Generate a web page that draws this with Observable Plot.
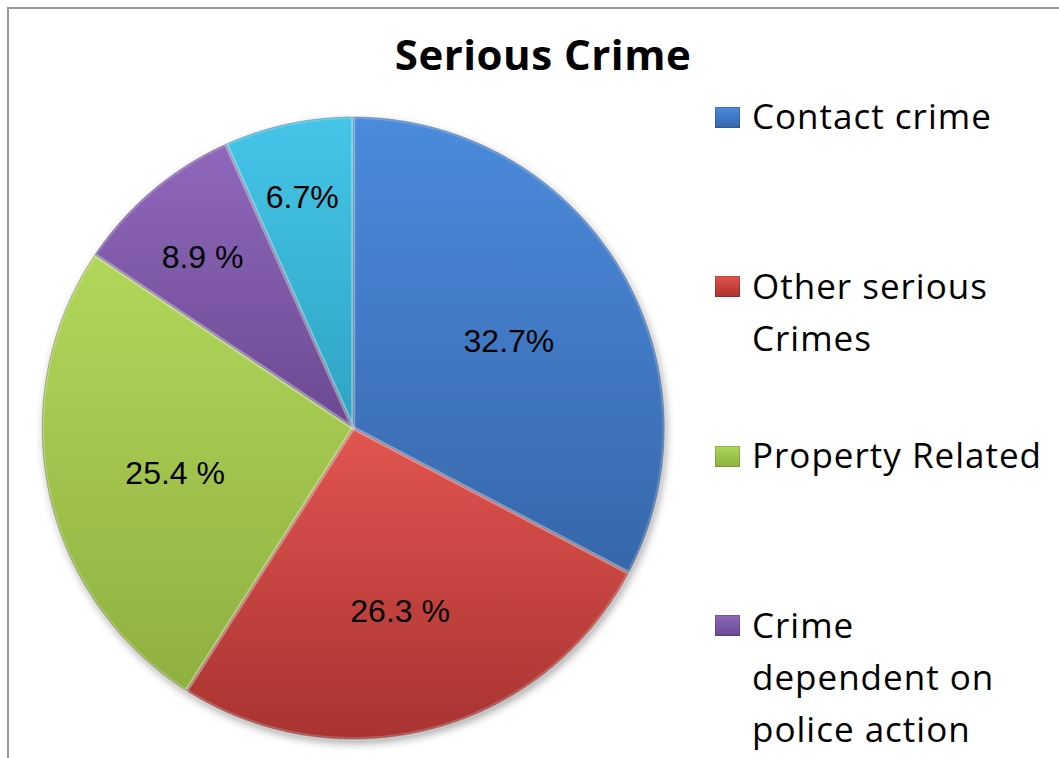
<!DOCTYPE html>
<html><head><meta charset="utf-8">
<script src="https://cdn.jsdelivr.net/npm/d3@7"></script>
<script src="https://cdn.jsdelivr.net/npm/@observablehq/plot@0.6"></script>
<style>
html,body{margin:0;padding:0;background:#fff;width:1059px;height:758px;overflow:hidden;position:relative;}
#frame{position:absolute;left:7px;top:7px;width:1100px;height:800px;border-top:2px solid #9a9a9a;border-left:2px solid #9a9a9a;}
#chart{position:absolute;left:0;top:0;}
#title{position:absolute;left:0;width:1086px;top:33px;text-align:center;font-family:"Open Sans";font-weight:bold;font-size:42px;line-height:42px;letter-spacing:0.5px;color:#000;}
#legend{position:absolute;left:715px;top:90px;}
.item{position:relative;height:169.5px;}
.sw{position:absolute;left:0;top:16.6px;width:25px;height:21px;box-shadow:inset 0 0 0 1px rgba(0,0,0,0.15);}
.lbl{position:absolute;left:37px;top:0;font-family:"Open Sans";font-size:35px;line-height:52px;letter-spacing:1px;white-space:pre;color:#000;}
</style></head><body>
<div id="frame"></div>
<div id="chart"></div>
<div id="title"></div>
<div id="legend"></div>
<script>
// ---- data ----
const titleText = "Serious Crime";
const categories = ["Contact crime", "Other serious Crimes", "Property Related", "Crime dependent on police action", ""];
const legendLines = ["Contact crime", "Other serious\nCrimes", "Property Related", "Crime\ndependent on\npolice action", ""];
const shares = [32.7, 26.3, 25.4, 8.9, 6.7];
const sliceLabels = ["32.7%", "26.3 %", "25.4 %", "8.9 %", "6.7%"];
const colorsTop = ["#4b8bdc", "#e2554f", "#b2d65a", "#8f68bc", "#45c5e8"];
const colorsBottom = ["#3767aa", "#a83331", "#8fb040", "#6a4a92", "#2fa3c4"];
const colorsMid = ["#3f78c6", "#c9403d", "#9bc34a", "#7c58a8", "#3ab4d8"];

// ---- layout ----
const W = 1059, H = 758, cx = 352.7, cy = 427.5, R = 311;

const rows = categories.map((name, i) => ({name, i, share: shares[i], label: sliceLabels[i]}));
const arcs = d3.pie().sort(null).value(d => d.share).startAngle(0).endAngle(2 * Math.PI)(rows);

const points = [];
arcs.forEach(a => {
  const i = a.data.i;
  points.push({i, x: 0, y: 0});
  const n = Math.max(2, Math.ceil((a.endAngle - a.startAngle) / 0.004));
  for (let k = 0; k <= n; k++) {
    const t = a.startAngle + (a.endAngle - a.startAngle) * k / n;
    points.push({i, x: Math.sin(t), y: Math.cos(t)});
  }
});

const labelPts = arcs.map(a => {
  const mid = (a.startAngle + a.endAngle) / 2;
  const rho = 0.585 + 0.3 * (1 - Math.min(1, a.data.share / 20));
  return {x: rho * Math.sin(mid), y: rho * Math.cos(mid), text: a.data.label};
});

const plot = Plot.plot({
  width: W, height: H,
  x: {domain: [-1, 1], range: [cx - R, cx + R], axis: null},
  y: {domain: [-1, 1], range: [cy + R, cy - R], axis: null},
  color: {type: "identity"},
  style: {background: "transparent", overflow: "visible"},
  marks: [
    Plot.line(points, {x: "x", y: "y", z: "i", fill: d => `url(#grad${d.i})`, stroke: "rgba(0,0,0,0.3)", strokeWidth: 1, curve: "linear-closed"}),
    Plot.line(points, {x: "x", y: "y", z: "i", fill: "none", stroke: "rgba(255,255,255,0.2)", strokeWidth: 4, strokeLinejoin: "round", curve: "linear-closed", className: "bevel"}),
    Plot.text(labelPts, {x: "x", y: "y", text: "text", dy: 8, fontSize: 32, fontFamily: "Liberation Sans, Arial, sans-serif", fill: "#000"})
  ]
});

const svg = d3.select(plot);
const defs = svg.insert("defs", ":first-child");
colorsTop.forEach((c, i) => {
  const g = defs.append("linearGradient").attr("id", `grad${i}`).attr("x1", 0).attr("y1", 0).attr("x2", 0).attr("y2", 1);
  g.append("stop").attr("offset", "0%").attr("stop-color", c);
  g.append("stop").attr("offset", "100%").attr("stop-color", colorsBottom[i]);
});
const f = defs.append("filter").attr("id", "shadow").attr("x", "-10%").attr("y", "-10%").attr("width", "130%").attr("height", "130%");
f.append("feDropShadow").attr("dx", 2).attr("dy", 4).attr("stdDeviation", 4).attr("flood-color", "#000").attr("flood-opacity", 0.35);
svg.select('g[aria-label="line"]').attr("filter", "url(#shadow)");

document.getElementById("chart").appendChild(plot);
document.getElementById("title").textContent = titleText;

const legend = d3.select("#legend");
legendLines.forEach((txt, i) => {
  if (!txt) return;
  const item = legend.append("div").attr("class", "item");
  item.append("div").attr("class", "sw")
    .style("background", `linear-gradient(${colorsTop[i]}, ${colorsMid[i]} 50%, ${colorsBottom[i]})`);
  item.append("div").attr("class", "lbl").text(txt);
});
</script>
</body></html>
